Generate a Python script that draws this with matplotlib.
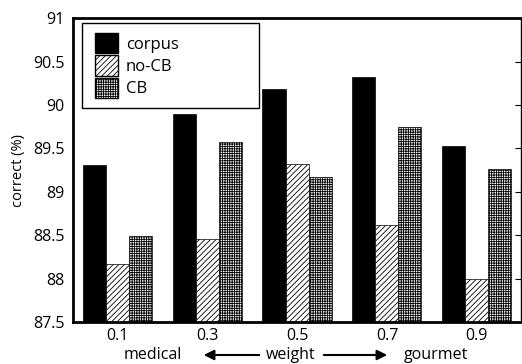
import numpy as np
import matplotlib.pyplot as plt
from matplotlib.patches import Patch, Rectangle, FancyArrowPatch

weights = ['0.1', '0.3', '0.5', '0.7', '0.9']
corpus = [89.31, 89.90, 90.18, 90.32, 89.53]
no_cb = [88.17, 88.46, 89.32, 88.62, 88.00]
cb = [88.49, 89.58, 89.17, 89.75, 89.26]

plt.rcParams['font.family'] = ['Open Sans', 'DejaVu Sans']
plt.rcParams['hatch.linewidth'] = 0.6

W, H = 522, 364
fig = plt.figure(figsize=(W / 100, H / 100), dpi=100)
ax = fig.add_axes([0.140, 0.115, 0.858, 0.835])

x = np.arange(len(weights))
w = 0.256
base = 87.5
ax.bar(x - w, np.array(corpus) - base, w, bottom=base, color='black', edgecolor='black', linewidth=0.5)
ax.bar(x, np.array(no_cb) - base, w, bottom=base, color='white', edgecolor='black', hatch='//////', linewidth=0.5)
ax.bar(x + w, np.array(cb) - base, w, bottom=base, color='white', edgecolor='black', hatch='+++++++', linewidth=0.5)

ax.set_xlim(-0.49, 4.49)
ax.set_ylim(87.5, 91)
ax.set_yticks([87.5, 88, 88.5, 89, 89.5, 90, 90.5, 91])
ax.set_yticklabels(['87.5', '88', '88.5', '89', '89.5', '90', '90.5', '91'])
ax.set_xticks(x)
ax.set_xticklabels(weights)
ax.tick_params(axis='x', length=0, labelsize=11.5, pad=4)
ax.tick_params(axis='y', left=False, right=True, direction='in', length=4, labelsize=11.5, pad=6)
for s in ax.spines.values():
    s.set_linewidth(2.0)
ax.spines['right'].set_linewidth(1.0)
ax.set_ylabel('correct (%)', fontsize=10.5, labelpad=5)

# legend, frame drawn by hand (the original box is wider than its entries)
handles = [Patch(facecolor='black', edgecolor='black', label='corpus'),
           Patch(facecolor='white', edgecolor='black', hatch='//////', label='no-CB'),
           Patch(facecolor='white', edgecolor='black', hatch='+++++++', label='CB')]
leg = fig.legend(handles=handles, loc='upper left', bbox_to_anchor=(95 / W, 1 - 33 / H), fontsize=12,
                 frameon=False, handlelength=1.4, handleheight=1.5,
                 handletextpad=0.45, labelspacing=0.12, borderpad=0, borderaxespad=0)
fig.add_artist(Rectangle((82 / W, 1 - 108 / H), 177 / W, 85 / H, transform=fig.transFigure,
                         facecolor='white', edgecolor='black', linewidth=1.0, zorder=4))
leg.set_zorder(5)

ty = 1 - 355 / H
fig.text(153 / W, ty, 'medical', ha='center', va='center', fontsize=11.5)
fig.text(291 / W, ty, 'weight', ha='center', va='center', fontsize=11.5)
fig.text(436 / W, ty, 'gourmet', ha='center', va='center', fontsize=11.5)
fig.add_artist(FancyArrowPatch((262 / W, ty), (201 / W, ty), transform=fig.transFigure,
                               arrowstyle='-|>,head_length=6,head_width=3', color='black', lw=1.5))
fig.add_artist(FancyArrowPatch((321 / W, ty), (390 / W, ty), transform=fig.transFigure,
                               arrowstyle='-|>,head_length=6,head_width=3', color='black', lw=1.5))

fig.savefig('out.png', dpi=100)
